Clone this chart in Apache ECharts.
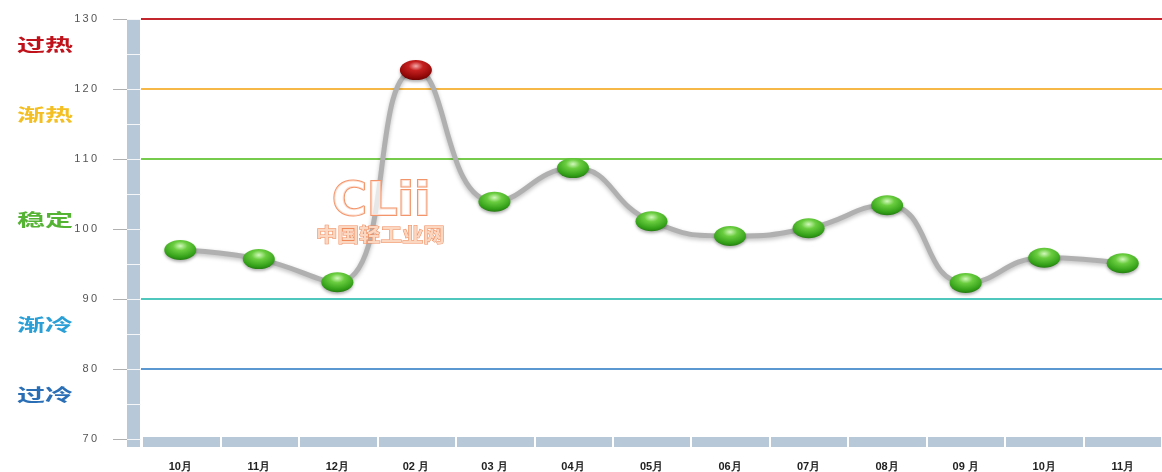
<!DOCTYPE html>
<html><head><meta charset="utf-8">
<script src="https://cdn.jsdelivr.net/npm/echarts@6/dist/echarts.min.js"></script>
<style>html,body{margin:0;padding:0;background:#fff}#c{width:1162px;height:472px}</style>
</head><body><div id="c"></div>
<script>
const categories = ['10月','11月','12月','02 月','03 月','04月','05月','06月','07月','08月','09 月','10月','11月'];
const values = [97.0, 95.7, 92.4, 122.7, 103.9, 108.7, 101.1, 99.0, 100.1, 103.4, 92.3, 95.9, 95.1];
const yMin = 70, yMax = 130, yInterval = 10;
const thresholds = [130, 120, 110, 90, 80];
const thresholdColors = ['#c3262c', '#f6b846', '#77cb4c', '#4fc7bd', '#5b98d2'];
const zoneNames = ['过热', '渐热', '稳定', '渐冷', '过冷'];
const zoneAt = [126.3, 116.3, 101.3, 86.3, 76.3];
const zoneColors = ['#c0121b', '#f4bf22', '#55b334', '#2a9fd6', '#2a6fb6'];
const hotLimit = 120;

const greenGrad = {type:'radial', x:0.5, y:0.3, r:0.75, colorStops:[
  {offset:0, color:'#d2f8bc'},{offset:0.3, color:'#6acd3f'},{offset:0.75, color:'#33a018'},{offset:1, color:'#217010'}]};
const redGrad = {type:'radial', x:0.5, y:0.3, r:0.75, colorStops:[
  {offset:0, color:'#f4aaaa'},{offset:0.3, color:'#c62020'},{offset:0.75, color:'#920808'},{offset:1, color:'#5e0000'}]};

const chart = echarts.init(document.getElementById('c'), null, {renderer:'canvas'});
const barColor = '#b7c8d9';

chart.setOption({
  backgroundColor:'#fff',
  animation:false,
  grid:[
    {left:141, right:0, top:19, bottom:33},
    {left:127, width:13, top:19, bottom:25, show:true, backgroundColor:barColor, borderWidth:0},
    {left:142, right:0, top:437, height:10, show:true, backgroundColor:barColor, borderWidth:0}
  ],
  xAxis:[
    {gridIndex:0, type:'category', data:categories, boundaryGap:true,
     axisLine:{show:false}, axisTick:{show:false}, splitLine:{show:false},
     axisLabel:{margin:22, fontSize:11, fontWeight:'bold', color:'#222', fontFamily:'Liberation Sans, Arial, sans-serif'}},
    {gridIndex:1, type:'value', show:false},
    {gridIndex:2, type:'category', data:categories, boundaryGap:true,
     axisLine:{show:false}, axisTick:{show:false}, axisLabel:{show:false},
     splitLine:{show:true, lineStyle:{color:'#fff', width:2}}}
  ],
  yAxis:[
    {gridIndex:0, type:'value', min:yMin, max:yMax, interval:yInterval, position:'left', offset:13,
     axisLine:{show:false}, axisTick:{show:true, length:15, lineStyle:{color:'#b0b0b0'}},
     splitLine:{show:false},
     axisLabel:{margin:31, fontSize:11, color:'#555', fontFamily:'Liberation Sans, Arial, sans-serif',
       formatter:v => String(v).split('').join('\u2009')}},
    {gridIndex:0, type:'value', min:yMin, max:yMax, interval:yInterval/2, position:'left', offset:0, z:5,
     axisLine:{show:false}, axisTick:{show:true, length:14, lineStyle:{color:'#f4f6f8', width:1}},
     axisLabel:{show:false}, splitLine:{show:false}},
    {gridIndex:1, type:'value', show:false},
    {gridIndex:2, type:'value', show:false}
  ],
  series:[{
    type:'line', xAxisIndex:0, yAxisIndex:0, data:values, smooth:0.5,
    symbol:'circle', symbolSize:[32,20], z:3,
    lineStyle:{color:'#b0b0b0', width:5, shadowColor:'rgba(0,0,0,0.25)', shadowBlur:4, shadowOffsetY:2},
    itemStyle:{color:p => p.value > hotLimit ? redGrad : greenGrad,
      shadowColor:'rgba(0,0,0,0.3)', shadowBlur:3, shadowOffsetY:2},
    emphasis:{disabled:true},
    markLine:{silent:true, symbol:'none', label:{show:false}, z:1,
      data:thresholds.map((v,i) => ({yAxis:v, lineStyle:{color:thresholdColors[i], width:2, type:'solid'}}))}
  }]
});

const gfx = zoneNames.map((name,i) => ({
  type:'text', x:17, y:chart.convertToPixel({yAxisIndex:0}, zoneAt[i]), scaleX:1.65,
  style:{text:name, fill:zoneColors[i], font:"bold 17px 'Noto Sans CJK SC'", verticalAlign:'middle', align:'left'}
}));
gfx.push({type:'text', x:332, y:180, scaleX:1.04, z:100,
  style:{text:'CLii', fill:'rgba(255,255,255,0.7)', stroke:'#f3956a', lineWidth:2,
    font:"bold 46px 'DejaVu Sans'", verticalAlign:'top'}});
gfx.push({type:'text', x:316, y:225, scaleX:1.13, z:100,
  style:{text:'中国轻工业网', fill:'#fbd6c0', stroke:'#f08a5a', lineWidth:1,
    font:"bold 19px 'Noto Sans CJK SC'", verticalAlign:'top'}});
chart.setOption({graphic:gfx});
</script></body></html>
